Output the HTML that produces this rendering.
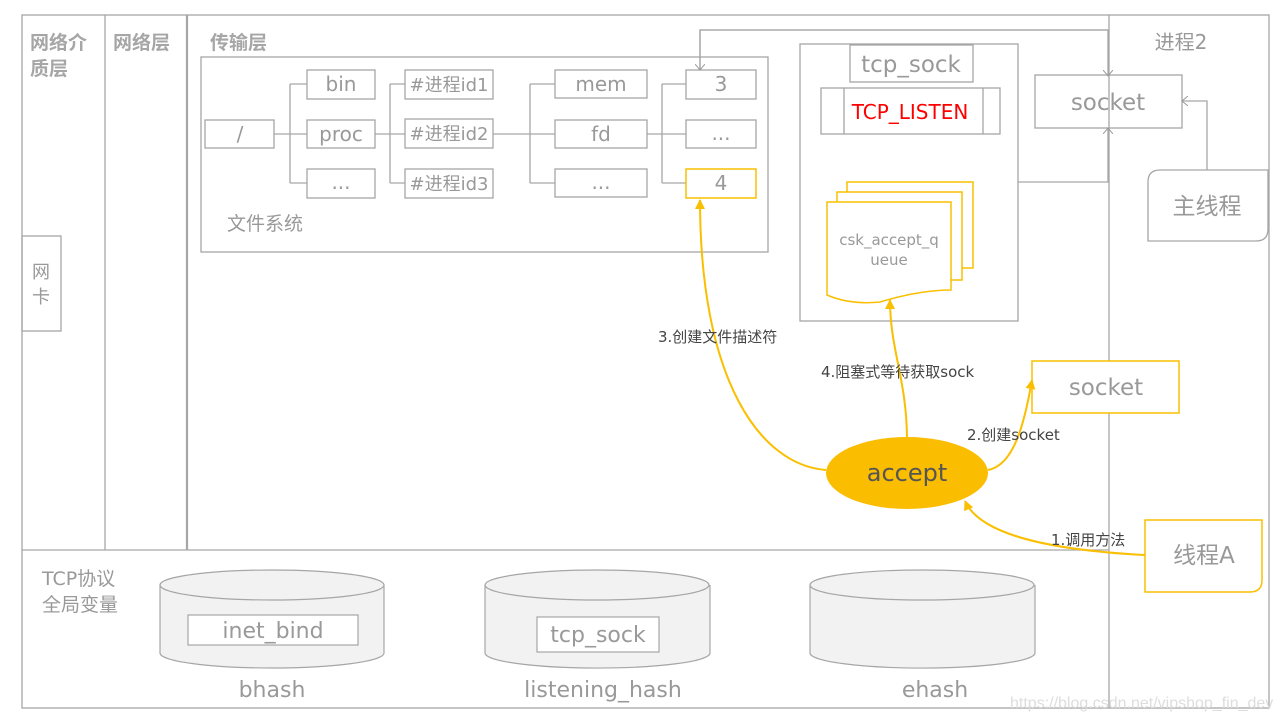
<!DOCTYPE html>
<html><head><meta charset="utf-8"><style>
html,body{margin:0;padding:0;background:#fff;}
svg{display:block;}
text{font-family:"DejaVu Sans","Liberation Sans","Noto Sans CJK SC",sans-serif;}
</style></head><body>
<svg width="1280" height="720" viewBox="0 0 1280 720" xmlns="http://www.w3.org/2000/svg">
<defs>
<marker id="ag" markerWidth="10" markerHeight="10" refX="5" refY="5" orient="auto" markerUnits="userSpaceOnUse"><path d="M0,0 L6,5 L0,10" fill="none" stroke="#999" stroke-width="1"/></marker>
<marker id="ay" markerWidth="12" markerHeight="12" refX="9" refY="5" orient="auto" markerUnits="userSpaceOnUse"><path d="M0,0 L10,5 L0,10 Z" fill="#f9bf00"/></marker>
</defs>
<g fill="none" stroke="#a6a6a6" stroke-width="1.3">
<rect x="22" y="15" width="1247" height="693"/>
<line x1="105" y1="15" x2="105" y2="550"/>
<line x1="187" y1="15" x2="187" y2="550" stroke-width="2.2"/>
<line x1="1109" y1="15" x2="1109" y2="708"/>
<line x1="22" y1="550" x2="1109" y2="550"/>
<rect x="22" y="236" width="39" height="95"/>
<rect x="201" y="57" width="567" height="195"/>
<rect x="205" y="120" width="69" height="28"/>
<rect x="307" y="70" width="68" height="29"/>
<rect x="307" y="120" width="68" height="28"/>
<rect x="307" y="169" width="68" height="29"/>
<rect x="405" y="70" width="88" height="29"/>
<rect x="405" y="119" width="88" height="29"/>
<rect x="405" y="169" width="88" height="29"/>
<rect x="555" y="70" width="92" height="28"/>
<rect x="555" y="120" width="92" height="28"/>
<rect x="555" y="169" width="92" height="28"/>
<rect x="686" y="70" width="70" height="29"/>
<rect x="686" y="120" width="70" height="28"/>
<path d="M274,134H307 M290,84V183 M290,84H307 M290,183H307"/>
<path d="M375,134H405 M390,84V183 M390,84H405 M390,183H405"/>
<path d="M493,134H555 M530,84V183 M530,84H555 M530,183H555"/>
<path d="M647,134H686 M662,84V183 M662,84H686 M662,183H686"/>
<rect x="800" y="44" width="218" height="277"/>
<rect x="850" y="45" width="123" height="37"/>
<rect x="821" y="88" width="179" height="46"/>
<line x1="844" y1="88" x2="844" y2="134"/><line x1="983" y1="88" x2="983" y2="134"/>
<rect x="1035" y="75" width="147" height="53"/>
<path d="M1148,241 V182 Q1148,170 1160,170 H1268 V229 Q1268,241 1256,241 Z"/>
<path d="M700,70 V30 H1108 V75" marker-end="url(#ag)"/>
<path d="M1108,30 H700 V69" marker-end="url(#ag)"/>
<path d="M1018,182 H1108 V129" marker-end="url(#ag)"/>
<path d="M1207,170 V101 H1183" marker-end="url(#ag)"/>
</g>
<g fill="#f2f2f2" stroke="#a6a6a6" stroke-width="1.2">
<path d="M160,585 V653 A112,15 0 0 0 384,653 V585"/><ellipse cx="272" cy="585" rx="112" ry="15"/>
<path d="M485,585 V653 A112,15 0 0 0 710,653 V585"/><ellipse cx="597" cy="585" rx="112" ry="15"/>
<path d="M810,585 V653 A112,15 0 0 0 1035,653 V585"/><ellipse cx="922" cy="585" rx="112" ry="15"/>
<rect x="188" y="615" width="170" height="30" fill="#fff"/>
<rect x="537" y="617" width="122" height="35" fill="#fff"/>
</g>
<g fill="#fff" stroke="#f9bf00" stroke-width="1.5">
<rect x="686" y="169" width="70" height="29"/>
<rect x="847" y="182" width="126" height="86"/>
<rect x="837" y="192" width="125" height="88"/>
<path d="M827,202 H951 V290 Q920,290 880,302 Q850,305 827,295 Z"/>
<rect x="1032" y="361" width="147" height="52"/>
<path d="M1145,520 H1262 V580 Q1262,592 1250,592 H1145 Z"/>
</g>
<g fill="none" stroke="#f9bf00" stroke-width="2">
<path d="M826,470 C760,465 700,380 700,200" marker-end="url(#ay)"/>
<path d="M907,440 C907,380 890,350 890,300" marker-end="url(#ay)"/>
<path d="M988,470 C1015,465 1025,420 1032,380" marker-end="url(#ay)"/>
<path d="M1145,555 C1050,550 980,535 965,501" marker-end="url(#ay)"/>
</g>
<ellipse cx="907" cy="473" rx="81" ry="36" fill="#fbbd00"/>
<g fill="#999" font-size="20" text-anchor="middle">
<text x="240" y="141">/</text>
<text x="341" y="91">bin</text><text x="341" y="141">proc</text><text x="341" y="189">...</text>
<g font-size="18"><text x="449" y="91">#进程id1</text><text x="449" y="140">#进程id2</text><text x="449" y="190">#进程id3</text></g>
<text x="601" y="91">mem</text><text x="601" y="141">fd</text><text x="601" y="189">...</text>
<text x="721" y="91">3</text><text x="721" y="140">...</text><text x="721" y="190">4</text>
<text x="911" y="72" font-size="23">tcp_sock</text>
<text x="910" y="119" fill="#ff0000">TCP_LISTEN</text>
<text x="1108" y="110" font-size="23">socket</text>
<text x="1106" y="395" font-size="23">socket</text>
<text x="1207" y="214" font-size="23">主线程</text>
<text x="1204" y="563" font-size="23">线程A</text>
<text x="1181" y="49">进程2</text>
<text x="889" y="245" font-size="15">csk_accept_q</text>
<text x="889" y="265" font-size="15">ueue</text>
<text x="273" y="638" font-size="22">inet_bind</text>
<text x="598" y="642" font-size="22">tcp_sock</text>
<text x="272" y="697" font-size="22">bhash</text>
<text x="603" y="697" font-size="22">listening_hash</text>
<text x="935" y="697" font-size="22">ehash</text>
<text x="41" y="278" font-size="18">网</text>
<text x="41" y="303" font-size="18">卡</text>
</g>
<g fill="#999" font-size="19">
<text x="227" y="230">文件系统</text>
<text x="42" y="585">TCP协议</text>
<text x="42" y="611">全局变量</text>
</g>
<g fill="#a6a6a6" font-size="19" font-weight="bold">
<text x="30" y="49">网络介</text><text x="30" y="75">质层</text>
<text x="113" y="49">网络层</text>
<text x="210" y="49">传输层</text>
</g>
<text x="907" y="481" font-size="24" fill="#555" text-anchor="middle">accept</text>
<g fill="#444" font-size="15">
<text x="658" y="342">3.创建文件描述符</text>
<text x="821" y="377">4.阻塞式等待获取sock</text>
<text x="967" y="440">2.创建socket</text>
<text x="1051" y="545">1.调用方法</text>
</g>
<text x="1010" y="708" font-size="16" fill="#ddd" style="font-family:'Liberation Sans',sans-serif">https://blog.csdn.net/vipshop_fin_dev</text>
</svg>
</body></html>
